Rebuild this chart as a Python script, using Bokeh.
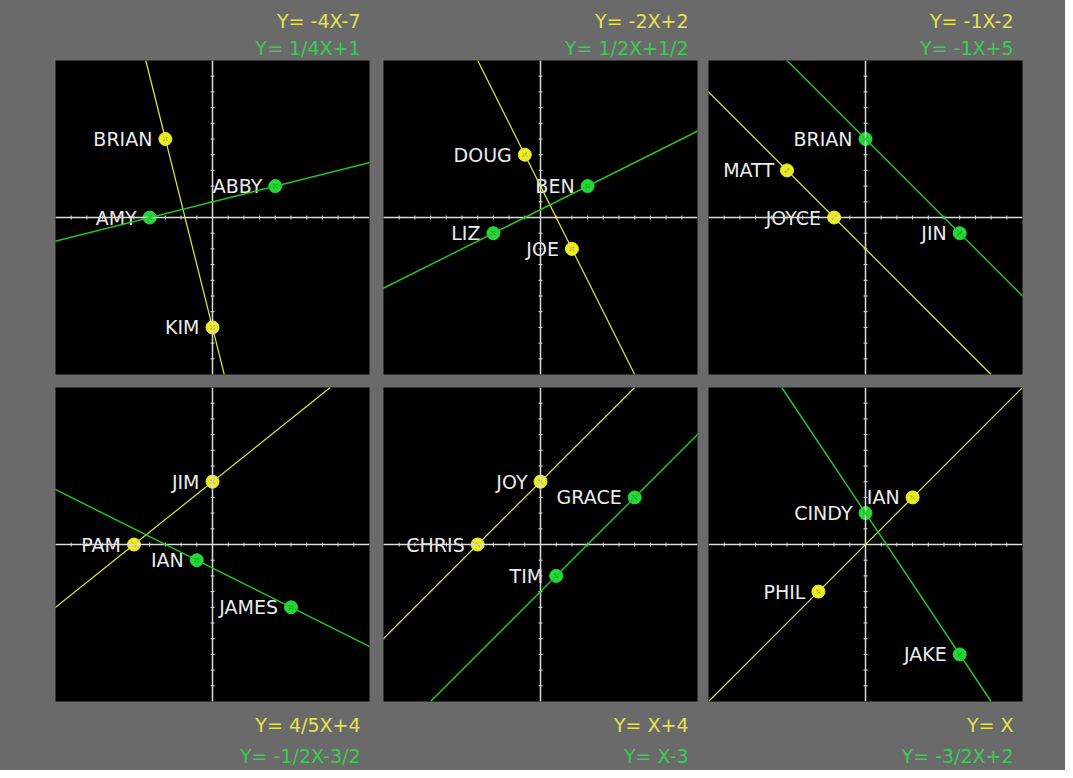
from bokeh.plotting import figure
from bokeh.models import Slope, Span, Title, ColumnDataSource, Range1d
from bokeh.layouts import row, column
from bokeh.core.properties import value
from bokeh.embed import file_html
from bokeh.resources import INLINE
import math

# ---------------- data ----------------
YELLOW_EQ = ["Y= -4X-7", "Y= -2X+2", "Y= -1X-2", "Y= 4/5X+4", "Y= X+4", "Y= X"]
GREEN_EQ = ["Y= 1/4X+1", "Y= 1/2X+1/2", "Y= -1X+5", "Y= -1/2X-3/2", "Y= X-3", "Y= -3/2X+2"]
YELLOW_M = [-4, -2, -1, 4 / 5, 1, 1]
YELLOW_B = [-7, 2, -2, 4, 4, 0]
GREEN_M = [1 / 4, 1 / 2, -1, -1 / 2, 1, -3 / 2]
GREEN_B = [1, 1 / 2, 5, -3 / 2, -3, 2]
YELLOW_NAMES = [["BRIAN", "KIM"], ["DOUG", "JOE"], ["MATT", "JOYCE"],
                ["JIM", "PAM"], ["JOY", "CHRIS"], ["IAN", "PHIL"]]
YELLOW_X = [[-3, 0], [-1, 2], [-5, -2], [0, -5], [0, -4], [3, -3]]
YELLOW_Y = [[5, -7], [4, -2], [3, 0], [4, 0], [4, 0], [3, -3]]
GREEN_NAMES = [["ABBY", "AMY"], ["BEN", "LIZ"], ["BRIAN", "JIN"],
               ["IAN", "JAMES"], ["GRACE", "TIM"], ["CINDY", "JAKE"]]
GREEN_X = [[4, -4], [3, -3], [0, 6], [-1, 5], [6, 1], [0, 6]]
GREEN_Y = [[2, 0], [2, -1], [5, -1], [-1, -4], [3, -2], [2, -7]]
AXIS_MIN, AXIS_MAX = -10, 10
TICKS = [-9, -8, -7, -6, -5, -4, -3, -2, -1, 1, 2, 3, 4, 5, 6, 7, 8, 9]

# ---------------- style ----------------
BG = "#6a6a6a"
YEL_LINE = "#e6e640"
YEL_PT = "#ecec22"
YEL_DARK = "#9a9a10"
YEL_TXT = "#e4e250"
GRN_LINE = "#22cc22"
GRN_PT = "#22d83a"
GRN_DARK = "#108a18"
GRN_TXT = "#3ccc55"
AXIS_COL = "#dcdcdc"
LABEL_COL = "#ececec"
FONT = "DejaVu Sans"

COL_W = [376, 326, 363]
COL_BL = [55, 7, 6]
COL_BR = [7, 5, 43]
ROW_H = [381, 389]
ROW_BT = [60, 6]
ROW_BB = [7, 69]


def make_panel(i):
    r, c = divmod(i, 3)
    p = figure(width=COL_W[c], height=ROW_H[r],
               x_range=Range1d(AXIS_MIN, AXIS_MAX), y_range=Range1d(AXIS_MIN, AXIS_MAX),
               output_backend="svg", toolbar_location=None,
               x_axis_location=None, y_axis_location=None, title_location=None,
               min_border_left=COL_BL[c], min_border_right=COL_BR[c],
               min_border_top=ROW_BT[r], min_border_bottom=ROW_BB[r],
               background_fill_color="black", border_fill_color=BG,
               outline_line_color=None, styles={"background-color": BG})
    p.xgrid.visible = False
    p.ygrid.visible = False

    # axes
    p.add_layout(Span(location=0, dimension="width", line_color=AXIS_COL, line_width=1.5))
    p.add_layout(Span(location=0, dimension="height", line_color=AXIS_COL, line_width=1.5))
    p.scatter(x=TICKS, y=[0] * len(TICKS), marker="dash", angle=math.pi / 2,
              size=4, line_color=AXIS_COL, line_width=1)
    p.scatter(x=[0] * len(TICKS), y=TICKS, marker="dash",
              size=4, line_color=AXIS_COL, line_width=1)

    # lines
    p.add_layout(Slope(gradient=YELLOW_M[i], y_intercept=YELLOW_B[i],
                       line_color=YEL_LINE, line_width=1.2))
    p.add_layout(Slope(gradient=GREEN_M[i], y_intercept=GREEN_B[i],
                       line_color=GRN_LINE, line_width=1.4))

    # points + labels
    for names, xs, ys, pt, dark in ((YELLOW_NAMES[i], YELLOW_X[i], YELLOW_Y[i], YEL_PT, YEL_DARK),
                                    (GREEN_NAMES[i], GREEN_X[i], GREEN_Y[i], GRN_PT, GRN_DARK)):
        src = ColumnDataSource(dict(x=xs, y=ys, name=names))
        p.scatter("x", "y", source=src, marker="circle", size=13,
                  fill_color=pt, line_color=pt)
        p.scatter("x", "y", source=src, marker="x", size=6,
                  line_color=dark, line_width=1.3, line_alpha=0.7)
        p.text("x", "y", text="name", source=src, text_color=LABEL_COL,
               text_align="right", text_baseline="middle", x_offset=-13,
               text_font=value(FONT), text_font_size="19px")

    # equations
    if r == 0:
        tg = Title(text=GREEN_EQ[i], align="right", offset=9, text_color=GRN_TXT,
                   text_font=FONT, text_font_size="19px", text_font_style="normal",
                   standoff=4)
        ty = Title(text=YELLOW_EQ[i], align="right", offset=9, text_color=YEL_TXT,
                   text_font=FONT, text_font_size="19px", text_font_style="normal",
                   standoff=2)
        p.add_layout(tg, "above")
        p.add_layout(ty, "above")
    else:
        ty = Title(text=YELLOW_EQ[i], align="right", offset=9, text_color=YEL_TXT,
                   text_font=FONT, text_font_size="19px", text_font_style="normal",
                   standoff=20)
        tg = Title(text=GREEN_EQ[i], align="right", offset=9, text_color=GRN_TXT,
                   text_font=FONT, text_font_size="19px", text_font_style="normal",
                   standoff=-6)
        p.add_layout(ty, "below")
        p.add_layout(tg, "below")
    return p


panels = [make_panel(i) for i in range(6)]
layout = column(row(*panels[:3], spacing=0, styles={"background-color": BG}),
                row(*panels[3:], spacing=0, styles={"background-color": BG}),
                spacing=0, styles={"background-color": BG})

open("out.html", "w").write(file_html(layout, INLINE))
